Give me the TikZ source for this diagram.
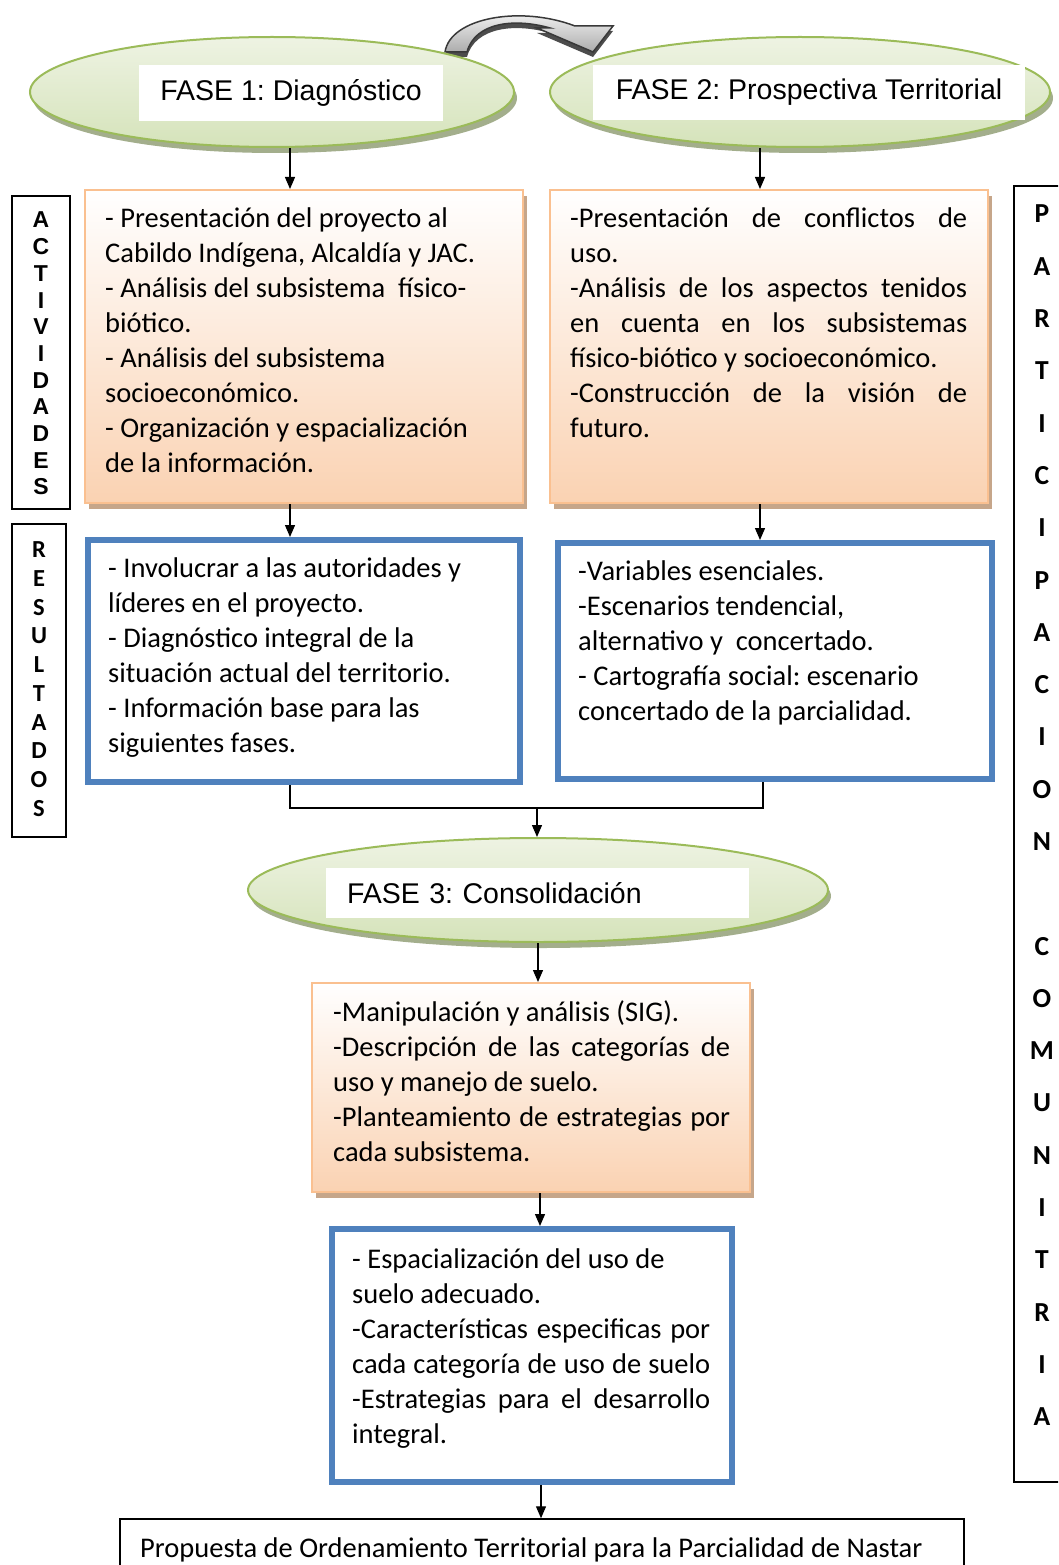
\documentclass[tikz,border=0pt]{standalone}
\usepackage{fontspec}
\setmainfont{Carlito}
\newfontfamily\arialfont{Liberation Sans}
\usetikzlibrary{shapes.geometric,shadows,arrows.meta}
\frenchspacing

\definecolor{faseline}{HTML}{9BBB59}
\definecolor{fasetop}{HTML}{EEF3E3}
\definecolor{fasebot}{HTML}{D5E3BA}
\definecolor{faseshade}{HTML}{A3AE8C}
\definecolor{actline}{HTML}{FAC090}
\definecolor{actfill}{HTML}{FAD2B2}
\definecolor{actshade}{HTML}{C6A68A}
\definecolor{resblue}{HTML}{4F81BD}

\newcommand{\jl}[2]{\makebox[#1pt][s]{#2}}

\tikzset{
  fase/.style={ellipse, draw=faseline, line width=2pt, top color=fasetop, bottom color=fasebot,
    inner sep=0pt, drop shadow={shadow xshift=3pt, shadow yshift=-6pt, fill=faseshade, opacity=1}},
  fasetxt/.style={fill=white, inner sep=0pt, font=\arialfont\fontsize{28.5}{34}\selectfont},
  actbox/.style={rectangle, draw=actline, line width=2pt, top color=white, bottom color=actfill,
    inner sep=0pt, drop shadow={shadow xshift=4pt, shadow yshift=-6pt, fill=actshade, opacity=1}},
  resbox/.style={rectangle, draw=resblue, line width=6pt, fill=white, inner sep=0pt},
  txt/.style={anchor=north west, inner sep=0pt, align=left, font=\fontsize{28.5}{35}\selectfont},
  lblbox/.style={rectangle, draw, line width=1.8pt, inner sep=0pt},
  actlet/.style={inner sep=0pt, font=\arialfont\bfseries\fontsize{23}{23}\selectfont},
  reslet/.style={inner sep=0pt, font=\bfseries\fontsize{24.5}{24.5}\selectfont},
  parlet/.style={inner sep=0pt, font=\bfseries\fontsize{27.5}{27.5}\selectfont},
  arr/.style={-{Triangle[width=10pt,length=12pt]}, line width=1.3pt},
}

\begin{document}
\begin{tikzpicture}[x=1pt,y=-1pt]
    \clip (0,0) rectangle (1058,1565);
    %% curved arrow between the two phases
    \fill[gray!60!black] (445,57) .. controls (450,23) and (520,10) .. (575,31) -- (613,31) -- (593,57) -- (537,33) -- (550,33) .. controls (515,23) and (475,27) .. (467,57) -- cycle;
    \draw[line width=1.5pt, draw=gray!45!black, top color=white, bottom color=gray!65]
        (445,52) .. controls (450,18) and (520,5) .. (575,26) -- (613,26) -- (593,52) -- (537,28) -- (550,28) .. controls (515,18) and (475,22) .. (467,52) -- cycle;

    %% phases
    \node[fase, minimum width=484pt, minimum height=110pt] (fase1) at (272,92) {};
    \node[fasetxt, minimum width=304pt, minimum height=56pt] (fase1t) at (291,93) {FASE 1: Diagnóstico};
    \node[fase, minimum width=500pt, minimum height=110pt] (fase2) at (800,92) {};
    \node[fasetxt, minimum width=432pt, minimum height=55pt] (fase2t) at (809,92.5) {FASE 2: Prospectiva Territorial};
    \node[fase, minimum width=580pt, minimum height=104pt] (fase3) at (538,890) {};
    \node[fasetxt, text width=381pt, inner xsep=21pt, minimum height=50pt] (fase3t) at (537.5,893) {FASE 3: Consolidación};

    %% activities
    \node[actbox, minimum width=438pt, minimum height=313pt] (a1) at (304,346.5) {};
    \node[txt] (a1t) at (105,202.5) {\strut- Presentación del proyecto al\\
        Cabildo Indígena, Alcaldía y JAC.\\
        - Análisis del subsistema \ físico-\\
        biótico.\\
        - Análisis del subsistema\\
        socioeconómico.\\
        - Organización y espacialización\\
        de la información.};
    \node[actbox, minimum width=438pt, minimum height=313pt] (a2) at (769,346.5) {};
    \node[txt] (a2t) at (570,202.5) {\strut\jl{397}{-Presentación de conflictos de}\\
        uso.\\
        \jl{397}{-Análisis de los aspectos tenidos}\\
        \jl{397}{en cuenta en los subsistemas}\\
        físico-biótico y socioeconómico.\\
        \jl{397}{-Construcción de la visión de}\\
        futuro.};
    \node[actbox, minimum width=438pt, minimum height=209pt] (a3) at (531,1087.5) {};
    \node[txt] (a3t) at (333,996.5) {\strut-Manipulación y análisis (SIG).\\
        \jl{397}{-Descripción de las categorías de}\\
        uso y manejo de suelo.\\
        \jl{397}{-Planteamiento de estrategias por}\\
        cada subsistema.};

    %% results
    \node[resbox, minimum width=432pt, minimum height=242pt] (r1) at (304,661) {};
    \node[txt] (r1t) at (108,552.5) {\strut- Involucrar a las autoridades y\\
        líderes en el proyecto.\\
        - Diagnóstico integral de la\\
        situación actual del territorio.\\
        - Información base para las\\
        siguientes fases.};
    \node[resbox, minimum width=434pt, minimum height=236pt] (r2) at (775,661) {};
    \node[txt] (r2t) at (578,555.5) {\strut-Variables esenciales.\\
        -Escenarios tendencial,\\
        alternativo y \ concertado.\\
        - Cartografía social: escenario\\
        concertado de la parcialidad.};
    \node[resbox, minimum width=400pt, minimum height=253pt] (r3) at (532,1355.5) {};
    \node[txt] (r3t) at (352,1243.5) {\strut- Espacialización del uso de\\
        suelo adecuado.\\
        \jl{358}{-Características especificas por}\\
        \jl{358}{cada categoría de uso de suelo}\\
        \jl{358}{-Estrategias para el desarrollo}\\
        integral.};

    %% final proposal
    \node[lblbox, line width=1.5pt, minimum width=844pt, minimum height=61pt] (fin) at (542,1549.5) {};
    \node[txt, anchor=base west] (fint) at (140,1557) {Propuesta de Ordenamiento Territorial para la Parcialidad de Nastar};

    %% side labels
    \node[lblbox, minimum width=58pt, minimum height=313pt] (act) at (41,352.5) {};
    \foreach \l [count=\i from 0] in {A,C,T,I,V,I,D,A,D,E,S}
        \node[actlet] (act\i) at (41,{220+26.7*\i}) {\l};
    \node[lblbox, minimum width=54pt, minimum height=313pt] (res) at (39,680.5) {};
    \foreach \l [count=\i from 0] in {R,E,S,U,L,T,A,D,O,S}
        \node[reslet] (res\i) at (39,{550+28.7*\i}) {\l};
    \node[lblbox, minimum width=60pt, minimum height=1296pt] (par) at (1044,834) {};
    \foreach \l [count=\i from 0] in {P,A,R,T,I,C,I,P,A,C,I,O,N,{},C,O,M,U,N,I,T,R,I,A}
        \node[parlet] (par\i) at (1042,{214+52.3*\i}) {\l};

    %% connectors
    \draw[arr] ([xshift=-14pt]a1.north |- fase1.south) -- ([xshift=-14pt]a1.north);
    \draw[arr] ([xshift=-9pt]a2.north |- fase2.south) -- ([xshift=-9pt]a2.north);
    \draw[arr] ([xshift=-14pt]a1.south) -- ([xshift=-14pt]a1.south |- r1.north);
    \draw[arr] ([xshift=-9pt]a2.south) -- ([xshift=-9pt]a2.south |- r2.north);
    \coordinate (jn) at (537,808);
    \draw[line width=1.3pt] ([xshift=-14pt]r1.south) |- (jn) -| ([xshift=-12pt]r2.south);
    \draw[arr] (jn) -- (jn |- fase3.north);
    \draw[arr] (fase3.south) -- (fase3.south |- a3.north);
    \draw[arr] ([xshift=9pt]a3.south) -- ([xshift=9pt]a3.south |- r3.north);
    \draw[arr] ([xshift=9pt]r3.south) -- ([xshift=9pt]r3.south |- fin.north);
\end{tikzpicture}
\end{document}
